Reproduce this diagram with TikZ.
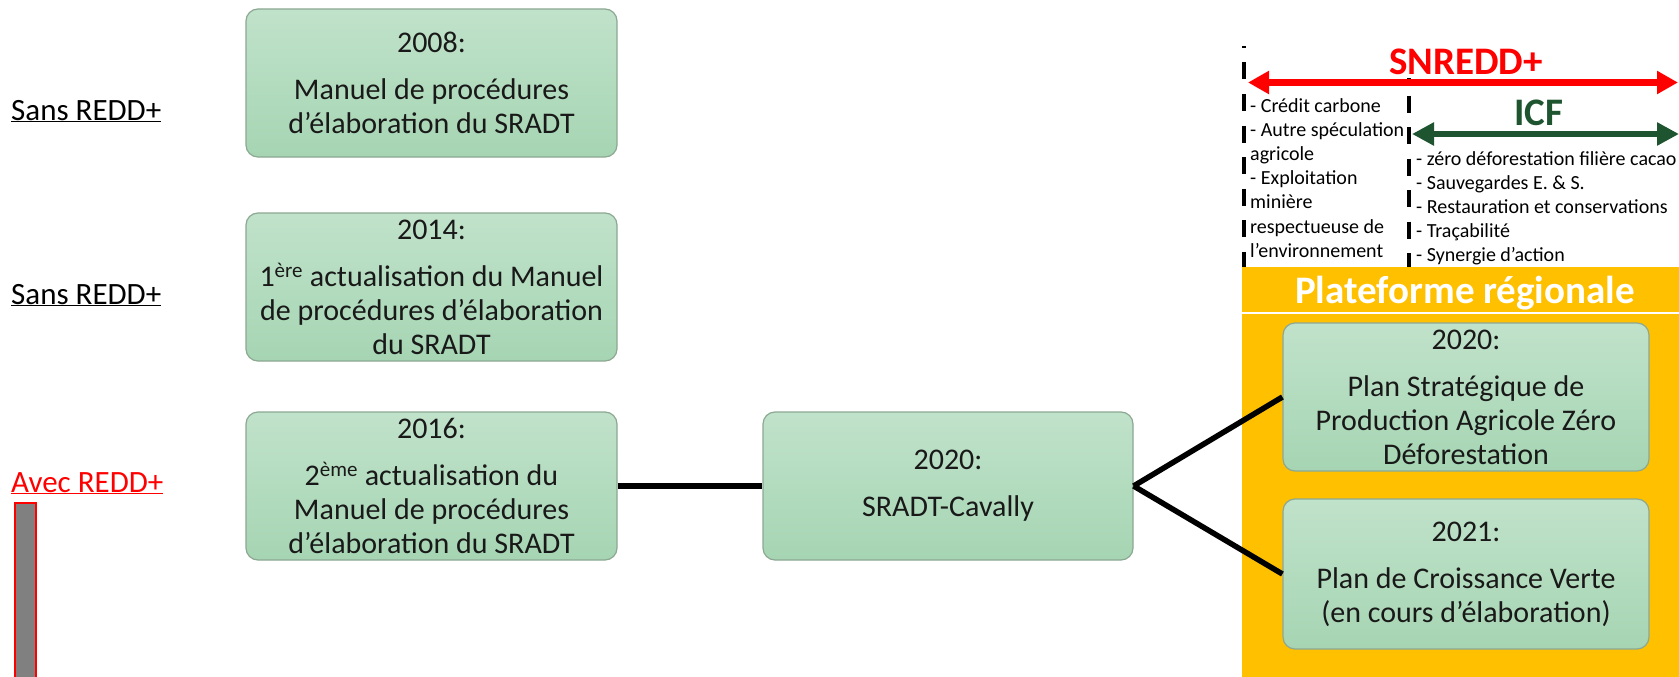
\documentclass[tikz,border=0pt]{standalone}
\usepackage{fontspec}
\setmainfont{Carlito}
\usetikzlibrary{arrows.meta}
\definecolor{boxtop}{RGB}{192,226,202}
\definecolor{boxbot}{RGB}{166,213,179}
\definecolor{boxedge}{RGB}{140,168,146}
\definecolor{panelyellow}{RGB}{255,192,0}
\definecolor{icfgreen}{RGB}{31,84,48}
\definecolor{barred}{RGB}{255,0,0}
\definecolor{bargrey}{RGB}{128,128,128}
\tikzset{
  stagebox/.style={draw=boxedge, line width=1.2pt, rounded corners=12pt,
    top color=boxtop, bottom color=boxbot, text=black!90,
    minimum width=#1, minimum height=148pt, inner sep=0pt, align=center,
    font=\fontsize{30}{34}\selectfont},
  stagebox/.default=371pt,
  sidelabel/.style={anchor=base west, inner sep=0pt, font=\fontsize{31}{34}\selectfont},
  listtext/.style={anchor=north west, inner sep=0pt, align=left, font=\fontsize{20}{24.2}\selectfont},
  link/.style={line width=5.5pt, black},
  sep/.style={line width=4pt, black, dash pattern=on 17pt off 14.5pt},
}
\begin{document}
\begin{tikzpicture}[x=1pt,y=-1pt]
\useasboundingbox (0,0) rectangle (1679,677);
\fill[white] (0,0) rectangle (1679,677);

% left labels
\node[sidelabel] (sans1) at (11,120) {\underline{Sans REDD+}};
\node[sidelabel] (sans2) at (11,304) {\underline{Sans REDD+}};
\node[sidelabel, text=barred] (avec) at (11,492) {\underline{Avec REDD+}};
\draw[fill=bargrey, draw=barred, line width=2pt] (15,503) rectangle (36,682);

% regional panel
\fill[panelyellow] (1242,267) rectangle (1679,677);
\draw[white, line width=1.5pt] (1242,313) -- (1679,313);
\node[anchor=base, inner sep=0pt, text=white, font=\fontsize{39}{44}\selectfont\bfseries] (plat) at (1465,303) {Plateforme régionale};

% stage boxes
\node[stagebox] (b2008) at (431.5,83) {2008:\\[13pt]Manuel de procédures\\d’élaboration du SRADT};
\node[stagebox] (b2014) at (431.5,287) {2014:\\[13pt]1\textsuperscript{ère} actualisation du Manuel\\de procédures d’élaboration\\du SRADT};
\node[stagebox] (b2016) at (431.5,486) {2016:\\[13pt]2\textsuperscript{ème} actualisation du\\Manuel de procédures\\d’élaboration du SRADT};
\node[stagebox=370pt] (bcav) at (948,486) {2020:\\[13pt]SRADT-Cavally};
\node[stagebox=366pt] (bpspa) at (1466,397) {2020:\\[13pt]Plan Stratégique de\\Production Agricole Zéro\\Déforestation};
\node[stagebox=366pt, minimum height=150pt] (bpcv) at (1466,574) {2021:\\[13pt]Plan de Croissance Verte\\(en cours d’élaboration)};

% connectors
\draw[link] (b2016.east) -- (bcav.west);
\draw[link] (bcav.east) -- (bpspa.west);
\draw[link] (bcav.east) -- (bpcv.west);

% dashed separators
\coordinate (s1top) at (1244,46);
\coordinate (s1bot) at (1244,267);
\coordinate (s2top) at (1409,78);
\coordinate (s2bot) at (1409,267);
\draw[sep, dash phase=15pt] (s1top) -- (s1bot);
\draw[sep, dash phase=14pt] (s2top) -- (s2bot);

% SNREDD+ arrow
\node[anchor=base, inner sep=0pt, text=barred, font=\fontsize{39}{44}\selectfont\bfseries] (snredd) at (1466,74.5) {SNREDD+};
\coordinate (ra) at (1248,82.5);
\coordinate (rb) at (1678,82.5);
\draw[barred, line width=7pt, {Triangle[width=22pt,length=21pt]}-{Triangle[width=22pt,length=21pt]}] (ra) -- (rb);

% ICF arrow
\node[anchor=base, inner sep=0pt, text=icfgreen, font=\fontsize{39}{44}\selectfont\bfseries] (icf) at (1539,125.7) {ICF};
\coordinate (ga) at (1412,134);
\coordinate (gb) at (1679,134);
\draw[icfgreen, line width=6pt, {Triangle[width=22pt,length=22pt]}-{Triangle[width=22pt,length=22pt]}] (ga) -- (gb);

% lists
\node[listtext] (listl) at (1250,98) {- Crédit carbone\\- Autre spéculation\\agricole\\- Exploitation\\minière\\respectueuse de\\l’environnement};
\node[listtext] (listr) at (1416,151) {- zéro déforestation filière cacao\\- Sauvegardes E. \& S.\\- Restauration et conservations\\- Traçabilité\\- Synergie d’action};
\end{tikzpicture}
\end{document}
